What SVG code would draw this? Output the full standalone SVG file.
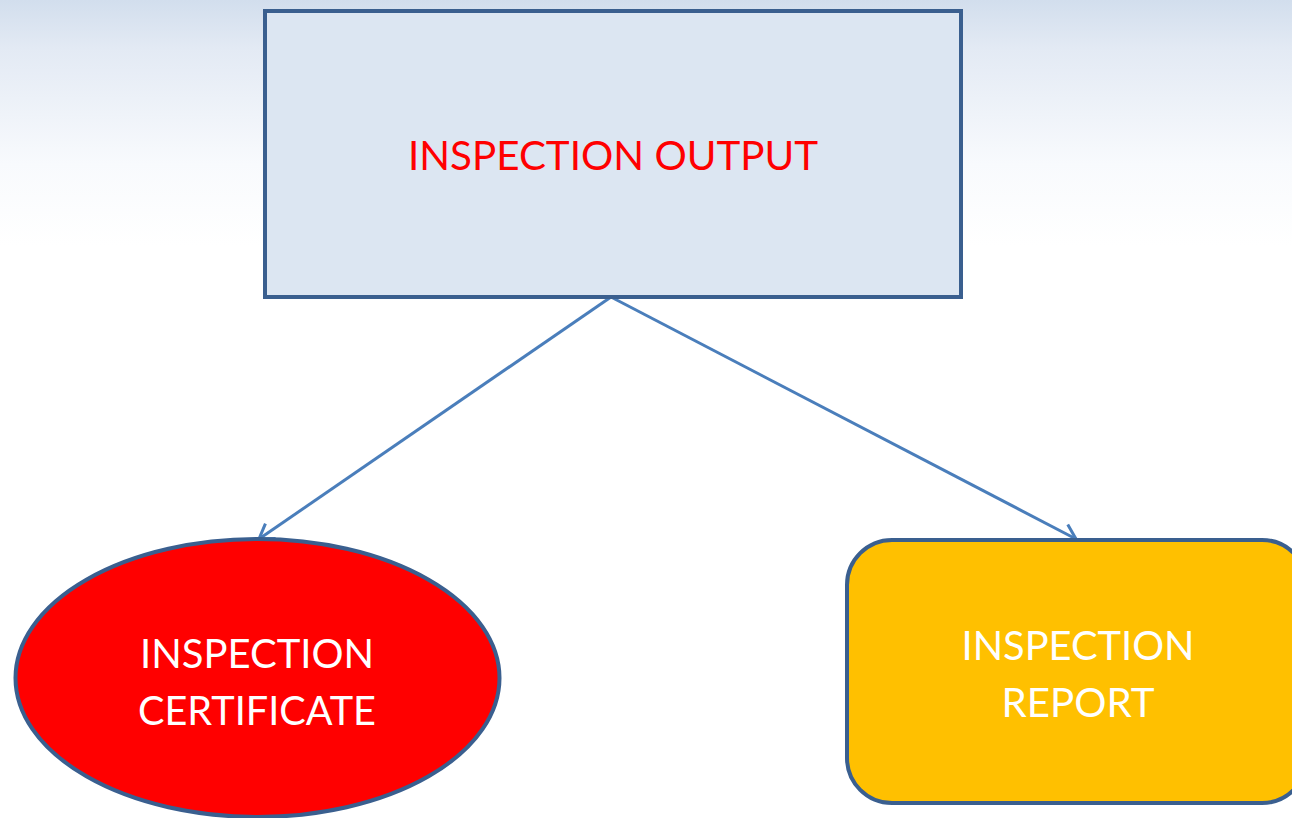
<svg xmlns="http://www.w3.org/2000/svg" width="1292" height="818" viewBox="0 0 1292 818">
<defs>
<linearGradient id="bg" x1="0" y1="0" x2="0" y2="1">
<stop offset="0" stop-color="#d2deed"/>
<stop offset="0.06" stop-color="#e3eaf4"/>
<stop offset="0.2" stop-color="#f8fafd"/>
<stop offset="0.3" stop-color="#ffffff"/>
<stop offset="1" stop-color="#ffffff"/>
</linearGradient>
<marker id="arr" markerWidth="30" markerHeight="30" refX="24" refY="15" orient="auto" markerUnits="userSpaceOnUse" overflow="visible">
<path d="M10,6 L24,15 L10,24" fill="none" stroke="#4a7ebb" stroke-width="3"/>
</marker>
<style>
.node{stroke:#3a5f8f;stroke-width:4}
.lbl{font-family:Lato,"Liberation Sans",sans-serif;font-size:40px;text-anchor:middle}
.conn{stroke:#4a7ebb;stroke-width:3;fill:none}
</style>
</defs>
<rect width="1292" height="818" fill="url(#bg)"/>
<g id="connectors">
<line class="conn" x1="611" y1="297" x2="259" y2="539" marker-end="url(#arr)"/>
<line class="conn" x1="611" y1="297" x2="1076" y2="539" marker-end="url(#arr)"/>
</g>
<g id="output">
<rect class="node" x="265" y="11" width="696" height="286" fill="#dce6f2"/>
<text class="lbl" x="613" y="170" fill="#ff0000" textLength="410" lengthAdjust="spacingAndGlyphs">INSPECTION OUTPUT</text>
</g>
<g id="certificate">
<ellipse class="node" cx="257.5" cy="678" rx="242" ry="139" fill="#ff0000"/>
<text class="lbl" x="257" y="668" fill="#ffffff" textLength="234" lengthAdjust="spacingAndGlyphs">INSPECTION</text>
<text class="lbl" x="257" y="725" fill="#ffffff" textLength="238" lengthAdjust="spacingAndGlyphs">CERTIFICATE</text>
</g>
<g id="report">
<rect class="node" x="847" y="540" width="460" height="263" rx="45" ry="45" fill="#ffc000"/>
<text class="lbl" x="1078" y="660" fill="#ffffff" textLength="233" lengthAdjust="spacingAndGlyphs">INSPECTION</text>
<text class="lbl" x="1078" y="717" fill="#ffffff" textLength="153" lengthAdjust="spacingAndGlyphs">REPORT</text>
</g>
</svg>
